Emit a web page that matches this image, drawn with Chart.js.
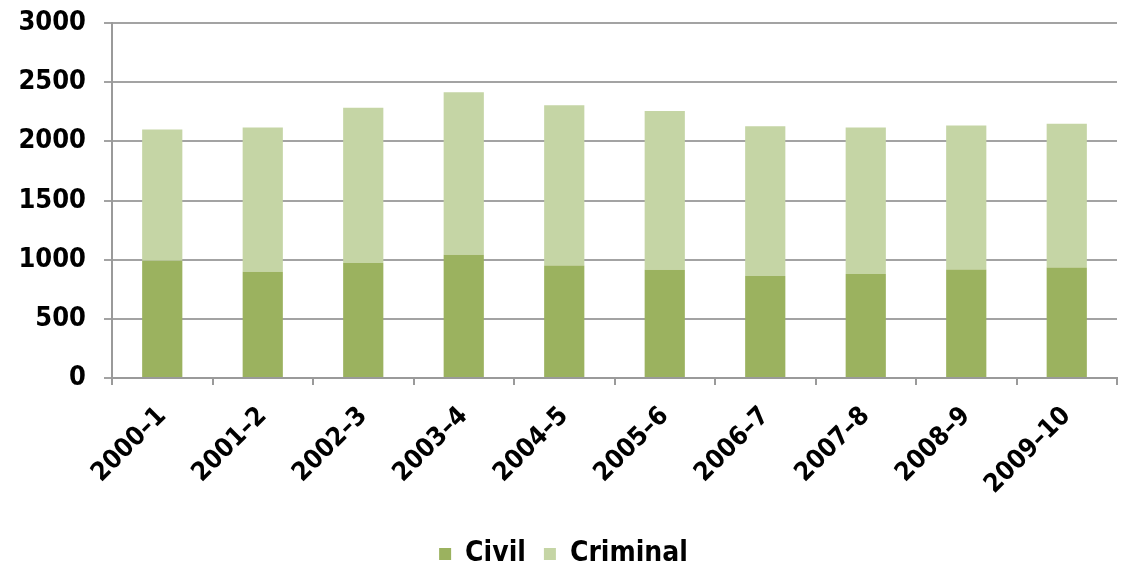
<!DOCTYPE html>
<html>
<head>
<meta charset="utf-8">
<script src="https://cdn.jsdelivr.net/npm/chart.js@4"></script>
<style>
  html, body { margin: 0; padding: 0; background: #fff; }
  #wrap { width: 1123px; height: 570px; }
</style>
</head>
<body>
<div id="wrap"><canvas id="caseChart"></canvas></div>
<script>
const years = ["2000–1", "2001–2", "2002–3", "2003–4", "2004–5", "2005–6", "2006–7", "2007–8", "2008–9", "2009–10"];
const civil = [990, 897, 971, 1041, 951, 914, 861, 878, 917, 934];
const criminal = [1110, 1220, 1313, 1373, 1353, 1342, 1267, 1239, 1217, 1214];
const yTicks = [0, 500, 1000, 1500, 2000, 2500, 3000];

// condensed bold, closest to the original's heavy condensed face
const fontFamily = "'DejaVu Sans', sans-serif";
const fontWeight = "bold condensed";

const ctx = document.getElementById("caseChart").getContext("2d");
const chart = new Chart(ctx, {
  type: "bar",
  data: {
    labels: years,
    datasets: [
      {
        label: "Civil",
        data: civil,
        backgroundColor: "#9bb25f"
      },
      {
        label: "Criminal",
        data: criminal,
        backgroundColor: "#c5d5a5"
      }
    ]
  },
  options: {
    responsive: true,
    maintainAspectRatio: false,
    animation: false,
    layout: {
      padding: { top: 23, right: 6, bottom: -8, left: 10 }
    },
    datasets: {
      bar: { categoryPercentage: 1.0, barPercentage: 0.4 }
    },
    scales: {
      x: {
        stacked: true,
        grid: {
          drawOnChartArea: false,
          color: "#9a9a9a",
          lineWidth: 2,
          tickLength: 7
        },
        border: { color: "#9a9a9a", width: 2 },
        ticks: {
          color: "#000",
          font: { family: fontFamily, weight: fontWeight, size: 26 },
          maxRotation: 45,
          minRotation: 45,
          padding: 16
        },
        afterFit(scale) { scale.height = 144; }
      },
      y: {
        stacked: true,
        min: 0,
        max: 3000,
        afterBuildTicks(scale) { scale.ticks = yTicks.map(v => ({ value: v })); },
        grid: {
          color: "#a3a3a3",
          lineWidth: 2,
          tickLength: 8
        },
        border: { color: "#9a9a9a", width: 2 },
        ticks: {
          color: "#000",
          font: { family: fontFamily, weight: fontWeight, size: 27 },
          padding: 18,
          callback: v => String(v)
        },
        afterFit(scale) {
          scale.width = 102;
          scale.paddingTop = 0;
          scale.paddingBottom = 0;
        }
      }
    },
    plugins: {
      legend: {
        position: "bottom",
        labels: {
          color: "#000",
          font: { family: fontFamily, weight: fontWeight, size: 28 },
          boxWidth: 12,
          boxHeight: 12,
          padding: 18
        }
      },
      tooltip: { enabled: false }
    }
  }
});
</script>
</body>
</html>
